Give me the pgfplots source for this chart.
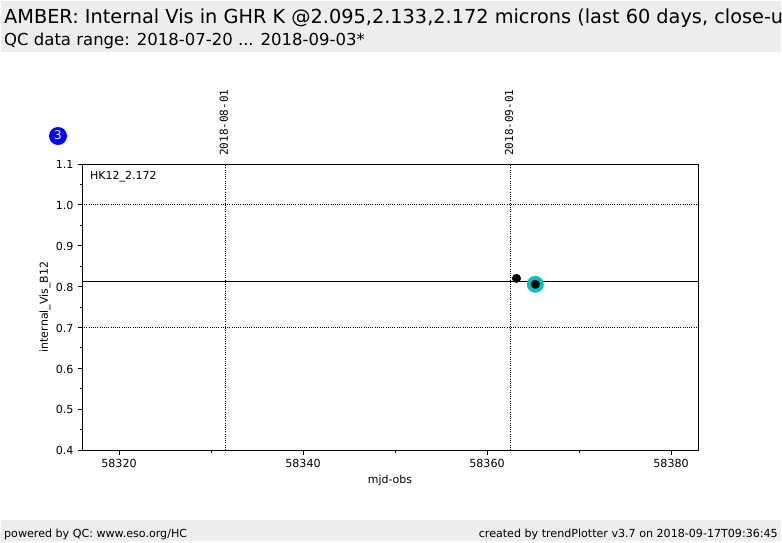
\documentclass[border=0pt]{standalone}
\usepackage{pgfplots}
\pgfplotsset{compat=1.18}
\usepackage{fontspec}
\setmainfont{DejaVu Sans}
\newfontfamily\monof{DejaVu Sans Mono}
\definecolor{band}{HTML}{EDEDED}
\definecolor{tealc}{HTML}{00BFBF}
\newcommand{\fs}[1]{\fontsize{#1pt}{#1pt}\selectfont}
\begin{document}
\begin{tikzpicture}[x=1pt,y=1pt]
\path[use as bounding box] (0,0) rectangle (782,542);
\fill[white] (0,0) rectangle (782,542);
\fill[band] (1,489.5) rectangle (781,541);
\fill[band] (1,1) rectangle (781,22);
\begin{scope}
\clip (0,0) rectangle (781,542);
\node[anchor=base west,inner sep=0pt,font=\fs{19.3}] at (4,518) {AMBER: Internal Vis in GHR K @2.095,2.133,2.172 microns (last 60 days, close-up)};
\end{scope}
\node[anchor=base west,inner sep=0pt,font=\fs{16.5}] at (4,496.3) {QC data range: 2018-07-20 ... 2018-09-03*};
\node[anchor=base west,inner sep=0pt,font=\fs{11.1}] at (4,5) {powered by QC: www.eso.org/HC};
\node[anchor=base east,inner sep=0pt,font=\fs{11.1}] at (778,5) {created by trendPlotter v3.7 on 2018-09-17T09:36:45};
\fill[blue] (58,406) circle (9);
\node[text=white,inner sep=0pt,font=\fs{12}] at (58,406.5) {3};
\begin{axis}[
  at={(82pt,92pt)},anchor=south west,
  scale only axis,width=616pt,height=286pt,
  xmin=58315.98,xmax=58382.93,ymin=0.4,ymax=1.1,
  axis line style={line width=0.9pt},
  clip=false,
  scaled ticks=false,
  xtick={58320,58340,58360,58380},
  xticklabels={58320,58340,58360,58380},
  minor xtick={58330,58350,58370},
  ytick={0.4,0.5,0.6,0.7,0.8,0.9,1.0,1.1},
  yticklabels={0.4,0.5,0.6,0.7,0.8,0.9,1.0,1.1},
  minor ytick={0.45,0.55,0.65,0.75,0.85,0.95,1.05},
  tick label style={font=\fs{11.1}},
  xticklabel style={yshift=-1.5pt},
  yticklabel style={yshift=-0.7pt,xshift=-0.5pt},
  tick align=outside,tickpos=left,
  major tick length=4.5pt,minor tick length=2.5pt,
  tick style={line width=0.8pt,black},
  xlabel={mjd-obs},ylabel={internal\_Vis\_B12},
  label style={font=\fs{11}},
  xlabel style={at={(axis description cs:0.5,0)},yshift=-22pt},
  ylabel style={at={(axis description cs:0,0.5)},yshift=28pt},
]
\addplot[black,dash pattern=on 1pt off 1.2pt,line width=0.8pt] coordinates {(58315.98,1.0) (58382.93,1.0)};
\addplot[black,dash pattern=on 1pt off 1.2pt,line width=0.8pt] coordinates {(58315.98,0.7) (58382.93,0.7)};
\addplot[black,dash pattern=on 1pt off 1.2pt,line width=0.8pt] coordinates {(58331.55,0.4) (58331.55,1.1)};
\addplot[black,dash pattern=on 1pt off 1.2pt,line width=0.8pt] coordinates {(58362.5,0.4) (58362.5,1.1)};
\addplot[black,line width=0.9pt] coordinates {(58315.98,0.8136) (58382.93,0.8136)};
\addplot[only marks,mark=*,mark size=8.2pt,color=tealc,mark options={draw=tealc,fill=tealc}] coordinates {(58365.25,0.8055)};
\addplot[only marks,mark=*,mark size=4.3pt,black] coordinates {(58363.2,0.820) (58365.25,0.8055)};
\node[anchor=base west,inner sep=0pt,font=\fs{11}] at (axis cs:58316.85,1.0625) {HK12\_2.172};
\node[rotate=90,anchor=west,inner sep=0pt,font=\monof\fs{11}] at (axis cs:58331.4,1.1195) {2018-08-01};
\node[rotate=90,anchor=west,inner sep=0pt,font=\monof\fs{11}] at (axis cs:58362.4,1.1195) {2018-09-01};
\end{axis}
\end{tikzpicture}
\end{document}
